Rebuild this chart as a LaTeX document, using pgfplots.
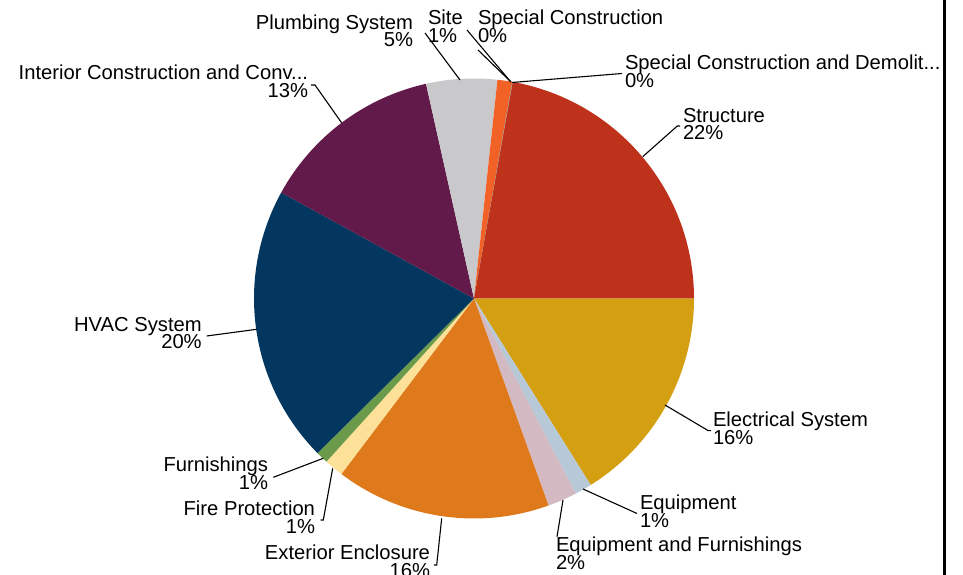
\documentclass[border=0pt]{standalone}
\usepackage{pgfplots}
\usepackage{pgfplotstable}
\pgfplotsset{compat=1.18}
\usepackage{fontspec}
\setmainfont{Liberation Sans}
\definecolor{cElec}{HTML}{D59F12}
\definecolor{cEquip}{HTML}{B7C8D7}
\definecolor{cEqF}{HTML}{D3B9C1}
\definecolor{cExt}{HTML}{DF7A1C}
\definecolor{cFire}{HTML}{FEE199}
\definecolor{cFurn}{HTML}{6B9A4B}
\definecolor{cHVAC}{HTML}{03375F}
\definecolor{cInt}{HTML}{611A4A}
\definecolor{cPlumb}{HTML}{C9C9CB}
\definecolor{cSite}{HTML}{F26226}
\definecolor{cSpec}{HTML}{7F7F7F}
\definecolor{cSpecD}{HTML}{9F9F9F}
\definecolor{cStruct}{HTML}{BE311B}

\pgfplotstableread[col sep=comma]{
name,value,color
Electrical System,16.1,cElec
Equipment,1.25,cEquip
Equipment and Furnishings,2.15,cEqF
Exterior Enclosure,15.8,cExt
Fire Protection,1.4,cFire
Furnishings,0.9,cFurn
HVAC System,20.4,cHVAC
Interior Construction and Conv...,13.5,cInt
Plumbing System,5.2,cPlumb
Site,1.08,cSite
Special Construction,0.02,cSpec
Special Construction and Demolit...,0.02,cSpecD
Structure,22.18,cStruct
}\piedata

\newcommand\lab[6]{%
  \node[anchor=base #1,inner sep=0pt,outer sep=0pt] at (axis cs:#2,{575-#3}) {#5};
  \node[anchor=base #1,inner sep=0pt,outer sep=0pt] at (axis cs:#2,{575-#4}) {#6};
}

\begin{document}
\begin{tikzpicture}
\fontsize{20.2}{20}\selectfont
\begin{axis}[x=1pt,y=1pt,xmin=0,xmax=963,ymin=0,ymax=575,hide axis,clip=false,
  axis line style={draw=none}]
\coordinate (ll) at (axis cs:0,0);
\coordinate (ur) at (axis cs:963,575);
\gdef\cum{0}
\pgfplotsinvokeforeach{0,...,12}{
  \pgfplotstablegetelem{#1}{value}\of\piedata \let\v\pgfplotsretval
  \pgfplotstablegetelem{#1}{color}\of\piedata \let\c\pgfplotsretval
  \pgfmathsetmacro\a{-3.6*\cum}
  \pgfmathsetmacro\b{-3.6*(\cum+\v)}
  \edef\temp{\noexpand\fill[\c] (axis cs:474,276.5) -- ++(\a:220pt) arc[start angle=\a, end angle=\b, radius=220pt] -- cycle;}
  \temp
  \pgfmathsetmacro\newcum{\cum+\v}
  \global\let\cum\newcum
}
% leader lines
\begin{scope}[line width=1.1pt,black]
\draw (axis cs:425,542) -- (axis cs:460,495);
\draw (axis cs:467,545) -- (axis cs:510,494);
\draw (axis cs:478,525) -- (axis cs:511,493);
\draw (axis cs:512,492.5) -- (axis cs:622,501.5);
\draw (axis cs:642.7,418.3) -- (axis cs:677.3,449) -- (axis cs:680,449);
\draw (axis cs:665,170) -- (axis cs:708.3,144.3) -- (axis cs:711,144.3);
\draw (axis cs:583,86) -- (axis cs:637,61.5);
\draw (axis cs:563,75) -- (axis cs:557,38.3);
\draw (axis cs:441.7,56.7) -- (axis cs:436.7,10) -- (axis cs:434,10);
\draw (axis cs:332.7,106.7) -- (axis cs:323.3,55) -- (axis cs:320.5,55);
\draw (axis cs:323.3,116.7) -- (axis cs:273.3,97.7);
\draw (axis cs:256.7,245.7) -- (axis cs:206.7,239);
\draw (axis cs:341.6,452.2) -- (axis cs:315,490) -- (axis cs:311,490);
\end{scope}
% labels
\lab{east}{413}{29.5}{47}{Plumbing System}{5\%}
\lab{east}{308}{80}{98}{Interior Construction and Conv...}{13\%}
\lab{west}{428}{25}{43}{Site}{1\%}
\lab{west}{478}{25}{43}{Special Construction}{0\%}
\lab{west}{625}{69.5}{87.5}{Special Construction and Demolit...}{0\%}
\lab{west}{683}{122.3}{140}{Structure}{22\%}
\lab{west}{713}{426.7}{444.3}{Electrical System}{16\%}
\lab{west}{640}{509.3}{527.3}{Equipment}{1\%}
\lab{west}{556}{551.7}{570}{Equipment and Furnishings}{2\%}
\lab{east}{430}{559.3}{577.5}{Exterior Enclosure}{16\%}
\lab{east}{315}{516}{534}{Fire Protection}{1\%}
\lab{east}{268}{471.7}{490}{Furnishings}{1\%}
\lab{east}{201.7}{331.7}{349}{HVAC System}{20\%}
\draw[line width=2.5pt] (axis cs:944.3,-5) -- (axis cs:944.3,580);
\end{axis}
\pgfresetboundingbox
\useasboundingbox (ll) rectangle (ur);
\end{tikzpicture}
\end{document}
